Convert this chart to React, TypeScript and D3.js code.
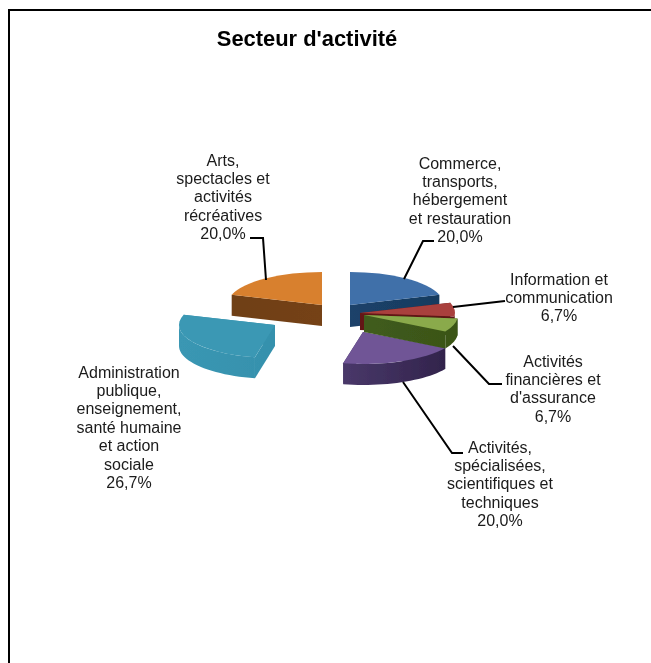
import React from "react";
import * as d3 from "d3";

const categories = [
  "Commerce", "Information", "Financieres", "Specialisees", "Administration", "Arts",
];
const values = [20.0, 6.7, 6.7, 20.0, 26.7, 20.0];
const labelLines = [
  ["Commerce,", "transports,", "hébergement", "et restauration", "20,0%"],
  ["Information et", "communication", "6,7%"],
  ["Activités", "financières et", "d'assurance", "6,7%"],
  ["Activités,", "spécialisées,", "scientifiques et", "techniques", "20,0%"],
  ["Administration", "publique,", "enseignement,", "santé humaine", "et action", "sociale", "26,7%"],
  ["Arts,", "spectacles et", "activités", "récréatives", "20,0%"],
];
const topColors = ["#3f6fa9", "#a9403d", "#8aaa4b", "#6f5596", "#3b98b4", "#d8802f"];
const wallStart = ["#1d4a76", "#6e1d1b", "#46641f", "#5a477f", "#3a97b3", "#6f3f14"];
const wallEnd = ["#183a5e", "#5a1412", "#3a5418", "#2f2148", "#318aa6", "#7a4517"];

const W = 651, H = 663;
const FONT = "'Liberation Sans', Arial, sans-serif";
const apex: [number, number][] = [[350, 305], [360, 313], [364, 315], [363, 332], [275, 325], [322, 305]];
const radX = [94, 95, 94, 95, 96, 95];
const radY = [33, 33, 33, 32, 33, 33];
const depth = [22, 17, 17, 21, 21, 21];
const drawOrder = [0, 5, 4, 3, 1, 2];
const labelPos: [number, number][] = [[460, 163], [559, 279], [553, 361], [500, 447], [129, 372], [223, 160]];
const LINE_H = 18.4;
const leaders: [number, number][][] = [
  [[404, 279], [423, 241], [434, 241]],
  [[453, 307], [505, 301]],
  [[453, 346], [489, 384], [502, 384]],
  [[403, 382], [452, 453], [463, 453]],
  [],
  [[250, 238], [263, 238], [266, 280]],
];

const arcs = d3.pie<number>().sort(null)(values);
const unitArc = d3.arc<d3.PieArcDatum<number>>().innerRadius(0).outerRadius(1);
const lineGen = d3.line<[number, number]>();

function pt(i: number, a: number, r = 1): [number, number] {
  return [apex[i][0] + r * radX[i] * Math.sin(a), apex[i][1] - r * radY[i] * Math.cos(a)];
}
function band(points: [number, number][], d: number) {
  const lower = points.map(([x, y]) => [x, y + d] as [number, number]).reverse();
  return lineGen([...points, ...lower]) + "Z";
}

export default function App() {
  return (
    <svg width={W} height={H} style={{ position: "absolute", left: 0, top: 0, background: "#fff" }}>
      <defs>
        <filter id="soft" x="-10%" y="-10%" width="120%" height="120%">
          <feGaussianBlur stdDeviation="0.6" />
        </filter>
        <filter id="softText" x="-5%" y="-5%" width="110%" height="110%">
          <feGaussianBlur stdDeviation="0.25" />
        </filter>
        {categories.map((c, i) => (
          <linearGradient key={c} id={`wall${i}`} gradientUnits="userSpaceOnUse"
            x1={apex[i][0] - radX[i]} x2={apex[i][0] + radX[i]} y1={0} y2={0}>
            <stop offset="0" stopColor={wallStart[i]} />
            <stop offset="1" stopColor={wallEnd[i]} />
          </linearGradient>
        ))}
      </defs>
      <path d={`M9 ${H}V10H${W}`} fill="none" stroke="#000" strokeWidth={2} />
      <g filter="url(#soft)">
        {drawOrder.map((i) => {
          const a = arcs[i];
          const s = a.startAngle, e = a.endAngle;
          const front0 = Math.max(s, Math.PI / 2), front1 = Math.min(e, (3 * Math.PI) / 2);
          const outer = front1 > front0
            ? d3.range(0, 25).map((k) => pt(i, front0 + ((front1 - front0) * k) / 24))
            : null;
          const fill = `url(#wall${i})`;
          return (
            <g key={categories[i]}>
              <path d={band([apex[i], pt(i, s)], depth[i])} fill={fill} />
              <path d={band([apex[i], pt(i, e)], depth[i])} fill={fill} />
              {outer && <path d={band(outer, depth[i])} fill={fill} />}
              <path
                d={unitArc(a) as string}
                transform={`translate(${apex[i][0]},${apex[i][1]}) scale(${radX[i]},${radY[i]})`}
                fill={topColors[i]}
              />
            </g>
          );
        })}
      </g>
      {leaders.map((l, i) =>
        l.length ? <path key={i} d={lineGen(l) as string} fill="none" stroke="#000" strokeWidth={2} /> : null
      )}
      <g filter="url(#softText)">
        <text x={307} y={46} textAnchor="middle" fontFamily={FONT} fontWeight="bold" fontSize={21.9} fill="#000">
          Secteur d'activité
        </text>
        {labelLines.map((lines, i) => (
          <text key={i} textAnchor="middle" fontFamily={FONT} fontSize={16} fill="#1a1a1a">
            {lines.map((t, k) => (
              <tspan key={k} x={labelPos[i][0]} y={labelPos[i][1] + 5.5 + k * LINE_H}>{t}</tspan>
            ))}
          </text>
        ))}
      </g>
    </svg>
  );
}
